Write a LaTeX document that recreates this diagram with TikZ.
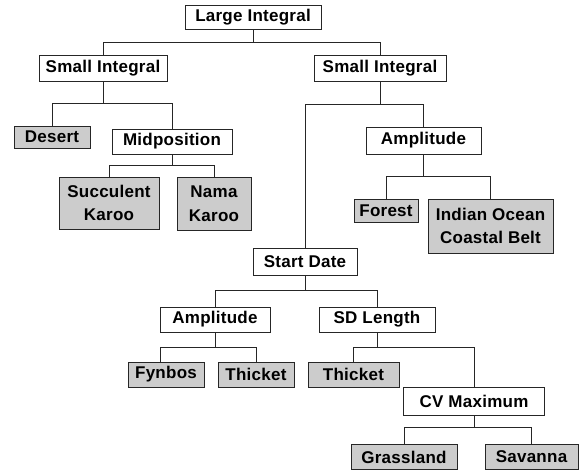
\documentclass[tikz,border=0pt]{standalone}
\usepackage{fontspec}
\setmainfont{Liberation Sans}[LetterSpace=1.5]
\begin{document}
\begin{tikzpicture}[x=1pt,y=-1pt,line width=1pt,box/.style={shape=rectangle,draw=black!85,fill=white,inner sep=0pt,align=center,font=\bfseries\fontsize{17}{23.5}\selectfont},boxG/.style={box,fill=black!20},wire/.style={draw=black!85}]
\useasboundingbox (0,0) rectangle (583,469);

\node[box,minimum width=136,minimum height=24] (LI) at (253,17) {Large Integral};

\node[box,minimum width=128,minimum height=26] (SIa) at (103,68) {Small Integral};
\node[box,minimum width=132,minimum height=26] (SIb) at (380,68) {Small Integral};
\draw[wire] (LI.south) -- ++(0,12.5) -| (SIa.north);
\draw[wire] (LI.south) -- ++(0,12.5) -| (SIb.north);

\node[boxG,minimum width=76,minimum height=22] (De) at (52,137) {Desert};
\node[box,minimum width=120,minimum height=25] (Mi) at (172,141.5) {Midposition};
\draw[wire] (SIa.south) -- ++(0,22) -| (De.north);
\draw[wire] (SIa.south) -- ++(0,22) -| (Mi.north);

\node[boxG,minimum width=100,minimum height=52] (SK) at (109,203) {Succulent\\Karoo};
\node[boxG,minimum width=74,minimum height=53] (NK) at (214,203.5) {Nama\\Karoo};
\draw[wire] (Mi.south) -- ++(0,11) -| (SK.north);
\draw[wire] (Mi.south) -- ++(0,11) -| (NK.north);

\node[box,minimum width=104,minimum height=27] (SD) at (305,261.5) {Start Date};
\node[box,minimum width=115,minimum height=27] (AmA) at (423.5,140.5) {Amplitude};
\draw[wire] (SIb.south) -- ++(0,23) -| (SD.north);
\draw[wire] (SIb.south) -- ++(0,23) -| (AmA.north);

\node[boxG,minimum width=64,minimum height=23] (Fo) at (386,210.5) {Forest};
\node[boxG,minimum width=125,minimum height=54] (IO) at (490.5,226) {Indian Ocean\\Coastal Belt};
\draw[wire] (AmA.south) -- ++(0,22) -| (Fo.north);
\draw[wire] (AmA.south) -- ++(0,22) -| (IO.north);

\node[box,minimum width=110,minimum height=25] (AmB) at (215,319.5) {Amplitude};
\node[box,minimum width=116,minimum height=25] (SL) at (377,319.5) {SD Length};
\draw[wire] (SD.south) -- ++(0,15) -| (AmB.north);
\draw[wire] (SD.south) -- ++(0,15) -| (SL.north);

\node[boxG,minimum width=76,minimum height=25] (Fy) at (166,374.5) {Fynbos};
\node[boxG,minimum width=76,minimum height=25] (ThA) at (256,374.5) {Thicket};
\draw[wire] (AmB.south) -- ++(0,15) -| ([xshift=-6]Fy.north);
\draw[wire] (AmB.south) -- ++(0,15) -| (ThA.north);

\node[boxG,minimum width=91,minimum height=25] (ThB) at (353.5,374.5) {Thicket};
\node[box,minimum width=141,minimum height=28] (CV) at (474,401) {CV Maximum};
\draw[wire] (SL.south) -- ++(0,15) -| (ThB.north);
\draw[wire] (SL.south) -- ++(0,15) -| (CV.north);

\node[boxG,minimum width=106,minimum height=25] (Gr) at (404,457) {Grassland};
\node[boxG,minimum width=93,minimum height=25] (Sa) at (531.5,457) {Savanna};
\draw[wire] (CV.south) -- ++(0,12) -| (Gr.north);
\draw[wire] (CV.south) -- ++(0,12) -| (Sa.north);
\end{tikzpicture}
\end{document}
